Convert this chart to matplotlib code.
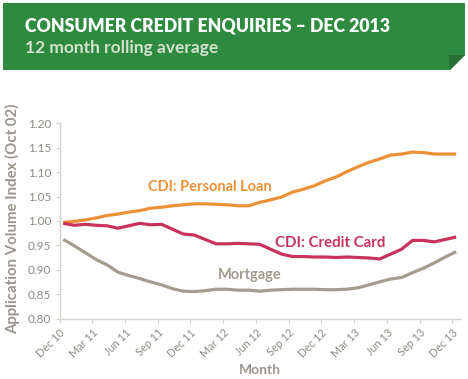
import matplotlib
matplotlib.use("Agg")
import matplotlib.pyplot as plt
from matplotlib.patches import Polygon

months = list(range(37))
tick_labels = ["Dec 10", "Mar 11", "Jun 11", "Sep 11", "Dec 11", "Mar 12", "Jun 12",
               "Sep 12", "Dec 12", "Mar 13", "Jun 13", "Sep 13", "Dec 13"]

personal_loan = [0.997, 0.999, 1.002, 1.006, 1.011, 1.014, 1.018, 1.021, 1.026, 1.028,
                 1.031, 1.033, 1.035, 1.035, 1.034, 1.033, 1.031, 1.031, 1.038, 1.043,
                 1.049, 1.059, 1.065, 1.072, 1.082, 1.090, 1.101, 1.111, 1.120, 1.127,
                 1.135, 1.137, 1.141, 1.140, 1.137, 1.137, 1.137]
credit_card = [0.995, 0.991, 0.993, 0.991, 0.990, 0.985, 0.990, 0.995, 0.992, 0.993,
               0.983, 0.973, 0.971, 0.962, 0.953, 0.953, 0.954, 0.953, 0.952, 0.942,
               0.932, 0.927, 0.927, 0.926, 0.926, 0.925, 0.926, 0.925, 0.924, 0.922,
               0.932, 0.942, 0.960, 0.960, 0.957, 0.962, 0.967]
mortgage = [0.962, 0.949, 0.935, 0.921, 0.910, 0.895, 0.888, 0.882, 0.875, 0.869,
            0.861, 0.856, 0.855, 0.857, 0.860, 0.860, 0.858, 0.858, 0.856, 0.858,
            0.859, 0.860, 0.860, 0.860, 0.859, 0.859, 0.860, 0.863, 0.869, 0.875,
            0.881, 0.884, 0.894, 0.903, 0.914, 0.926, 0.937]

c_pl = "#EC9137"
c_cc = "#C9325C"
c_mo = "#A29C91"
c_axis_text = "#8E8A84"
c_spine = "#D3D0CB"

W, H = 468, 379
fig = plt.figure(figsize=(W / 100, H / 100), dpi=100)
fig.patch.set_facecolor("white")

def fx(px):
    return px / W

def fy(py):
    return 1 - py / H

# Banner
banner = Polygon([(fx(3), fy(3)), (fx(465), fy(3)), (fx(465), fy(55)),
                  (fx(450), fy(70)), (fx(3), fy(70))],
                 closed=True, transform=fig.transFigure, facecolor="#2E8A3F",
                 edgecolor="none", zorder=0)
fig.patches.append(banner)
fold = Polygon([(fx(449), fy(55)), (fx(465), fy(55)), (fx(450), fy(70))],
               closed=True, transform=fig.transFigure, facecolor="#276F35",
               edgecolor="none", zorder=1)
fig.patches.append(fold)

fig.text(fx(25), fy(26), "CONSUMER CREDIT ENQUIRIES \u2013 DEC 2013", color="white",
         fontsize=12.7, fontweight="heavy", family="Lato", va="center", ha="left")
fig.text(fx(25), fy(48), "12 month rolling average", color="#D3E2CC",
         fontsize=12.5, fontweight="bold", family="Lato", va="center", ha="left")

ax = fig.add_axes([fx(59.5), fy(318.5), fx(460) - fx(59.5), fy(123.3) - fy(318.5)])
ax.set_facecolor("white")

ax.plot(months, personal_loan, color=c_pl, lw=2.3, solid_capstyle="butt", zorder=3)
ax.plot(months, credit_card, color=c_cc, lw=2.3, solid_capstyle="butt", zorder=3)
ax.plot(months, mortgage, color=c_mo, lw=2.3, solid_capstyle="butt", zorder=3)

ax.text(13.4, 1.070, "CDI: Personal Loan", color=c_pl, fontsize=10.5, fontweight="bold",
        family="Lato", ha="center", va="center")
ax.text(24.5, 0.955, "CDI: Credit Card", color=c_cc, fontsize=10.8, fontweight="bold",
        family="Lato", ha="center", va="center")
ax.text(17.1, 0.889, "Mortgage", color=c_mo, fontsize=10.5, fontweight="bold",
        family="Lato", ha="center", va="center")

ax.set_xlim(-0.35, 36.35)
ax.set_ylim(0.80, 1.20)
yt = [0.80, 0.85, 0.90, 0.95, 1.00, 1.05, 1.10, 1.15, 1.20]
ax.set_yticks(yt)
ax.set_yticklabels([f"{v:.2f}" for v in yt], family="Lato", fontsize=8.5, color=c_axis_text)
xt = [3 * k - 0.35 for k in range(13)]
ax.set_xticks(xt)
ax.set_xticklabels(tick_labels, rotation=45, ha="right", rotation_mode="anchor",
                   family="Lato", fontsize=7.8, color=c_axis_text)

for s in ["top", "right"]:
    ax.spines[s].set_visible(False)
for s in ["left", "bottom"]:
    ax.spines[s].set_color(c_spine)
    ax.spines[s].set_linewidth(1.0)
ax.tick_params(axis="both", colors=c_spine, length=3, width=0.8, labelcolor=c_axis_text)
ax.tick_params(axis="y", pad=3)
ax.tick_params(axis="x", pad=3)

fig.text(fx(13), fy(219), "Application Volume Index (Oct 02)", rotation=90,
         color="#9A958E", fontsize=10.8, fontweight="bold", family="Lato",
         ha="center", va="center")
fig.text(fx(260), fy(370), "Month", color="#9A958E", fontsize=10, fontweight="bold",
         family="Lato", ha="center", va="center")

fig.savefig("out.png", dpi=100, facecolor="white")
